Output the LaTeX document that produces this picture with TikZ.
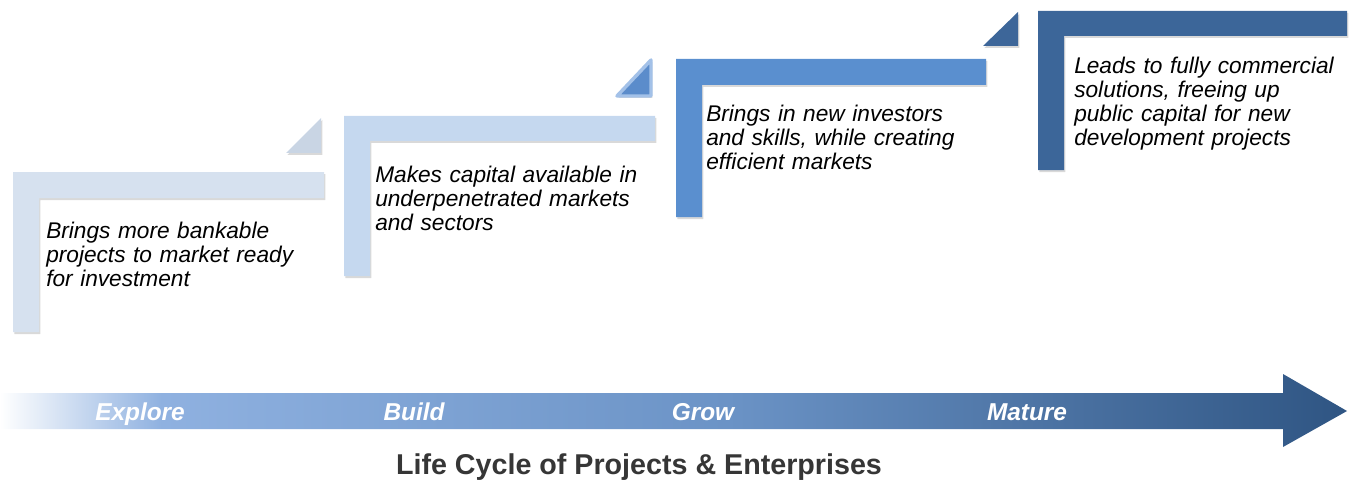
\documentclass[tikz,border=0pt]{standalone}
\usepackage{fontspec}
\setmainfont{Liberation Sans}
\usetikzlibrary{shadows}
\definecolor{stepA}{HTML}{D6E1EF}
\definecolor{triA}{HTML}{C9D5E4}
\definecolor{stepB}{HTML}{C5D8EF}
\definecolor{triB}{HTML}{5B8CCB}
\definecolor{triBedge}{HTML}{A3C1E8}
\definecolor{stepC}{HTML}{5A8FCF}
\definecolor{triC}{HTML}{3D6699}
\definecolor{stepD}{HTML}{3C6699}
\definecolor{gA}{HTML}{8FB1E0}
\definecolor{gB}{HTML}{6B93C6}
\definecolor{gC}{HTML}{2F5583}
\definecolor{titlegray}{HTML}{363636}
\pgfdeclarehorizontalshading{lifecycle}{100bp}{color(0bp)=(white); color(25bp)=(white); color(31bp)=(gA); color(52bp)=(gB); color(75bp)=(gC); color(100bp)=(gC)}
\tikzset{
  lshape/.style={drop shadow={shadow xshift=1pt, shadow yshift=-1.5pt, opacity=0.3}},
  stepstext/.style={anchor=base west, inner sep=0pt, text width=260pt, align=left,
    font=\fontsize{17}{18}\selectfont\itshape, text=black},
  phase/.style={anchor=base, inner sep=0pt, text=white, font=\fontsize{18.3}{19}\selectfont\bfseries\itshape},
  titletext/.style={anchor=base, inner sep=0pt, text=titlegray, font=\fontsize{21.5}{23}\selectfont\bfseries}
}
\begin{document}
\begin{tikzpicture}[x=0.75pt,y=-0.75pt]
\useasboundingbox (0,0) rectangle (1355,481);
% steps
\fill[stepA, lshape] (13,172) -- (324,172) -- (324,198) -- (39,198) -- (39,332) -- (13,332) -- cycle;
\fill[triA, lshape] (286,153) -- (321,153) -- (321,118) -- cycle;
\fill[stepB, lshape] (344,116) -- (655,116) -- (655,141) -- (370,141) -- (370,276) -- (344,276) -- cycle;
\filldraw[lshape, fill=triB, draw=triBedge, line width=2.6pt, line join=round] (617,96) -- (651,96) -- (651,60) -- cycle;
\fill[stepC, lshape] (676,59) -- (986,59) -- (986,85) -- (702,85) -- (702,217) -- (676,217) -- cycle;
\fill[triC, lshape] (983,46) -- (1018,46) -- (1018,12) -- cycle;
\fill[stepD, lshape] (1038,11) -- (1347,11) -- (1347,36) -- (1064,36) -- (1064,170) -- (1038,170) -- cycle;
% texts
\node[stepstext] (t1) at (46,238) {Brings more bankable\\projects to market ready\\for investment};
\node[stepstext] (t2) at (375,182) {Makes capital available in\\underpenetrated markets\\and sectors};
\node[stepstext] (t3) at (706,122) {Brings in new investors\\and skills, while creating\\efficient markets};
\node[stepstext] (t4) at (1074,74) {Leads to fully commercial\\solutions, freeing up\\public capital for new\\development projects};
% arrow
\shade[shading=lifecycle] (0,393) -- (1283,393) -- (1283,374) -- (1347,411) -- (1283,447) -- (1283,429) -- (0,429) -- cycle;
\node[phase] (p1) at (140,420) {Explore};
\node[phase] (p2) at (414,420) {Build};
\node[phase] (p3) at (703,420) {Grow};
\node[phase] (p4) at (1027,420) {Mature};
\node[titletext] (title) at (639,474) {Life Cycle of Projects \& Enterprises};
\end{tikzpicture}
\end{document}
